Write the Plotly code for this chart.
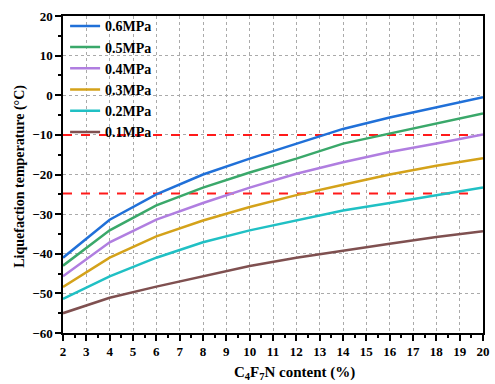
import plotly.graph_objects as go

content = [2, 4, 6, 8, 10, 12, 14, 16, 18, 20]
t_06 = [-41.0, -31.4, -25.0, -20.0, -16.0, -12.2, -8.5, -5.6, -3.1, -0.5]
t_05 = [-43.0, -34.1, -27.8, -23.3, -19.5, -16.0, -12.2, -9.7, -7.2, -4.6]
t_04 = [-45.7, -37.1, -31.4, -27.2, -23.3, -19.8, -16.9, -14.3, -12.2, -9.9]
t_03 = [-48.4, -41.0, -35.6, -31.6, -28.2, -25.2, -22.6, -20.0, -17.8, -15.9]
t_02 = [-51.4, -45.7, -41.0, -37.1, -34.1, -31.6, -29.1, -27.2, -25.3, -23.3]
t_01 = [-55.0, -51.1, -48.3, -45.7, -43.1, -41.0, -39.2, -37.5, -35.8, -34.3]

series_names = ["0.6MPa", "0.5MPa", "0.4MPa", "0.3MPa", "0.2MPa", "0.1MPa"]
series_vals = [t_06, t_05, t_04, t_03, t_02, t_01]
colors = ["#2070d8", "#3aa86a", "#b07ee0", "#d4a21a", "#20c0c4", "#7f5050"]

ref_levels = [-10, -24.8]
ref_x = [2, 19.6]

x_title = "C<sub>4</sub>F<sub>7</sub>N content (%)"
y_title = "Liquefaction temperature (°C)"

font_family = "Liberation Serif, Times New Roman, serif"

fig = go.Figure()
for lvl in ref_levels:
    fig.add_trace(go.Scatter(x=ref_x, y=[lvl, lvl], mode="lines",
                             line=dict(color="#ff1a1a", width=2, dash="dash"),
                             showlegend=False, hoverinfo="skip"))
for name, vals, c in zip(series_names, series_vals, colors):
    fig.add_trace(go.Scatter(x=content, y=vals, mode="lines", name=name,
                             line=dict(color=c, width=2.5)))

fig.update_layout(
    width=495, height=384,
    margin=dict(l=63, r=5, t=16, b=51),
    plot_bgcolor="white", paper_bgcolor="white",
    font=dict(family=font_family, color="black"),
    legend=dict(x=0.005, y=1.018, xanchor="left", yanchor="top",
                bgcolor="rgba(0,0,0,0)", tracegroupgap=0,
                font=dict(family=font_family, size=14, color="black", weight="bold"),
                itemwidth=30),
    annotations=[
        dict(text="<b>" + x_title + "</b>", xref="paper", yref="paper",
             x=(298 - 63) / 427, y=-(373 - 333) / 317, xanchor="center", yanchor="middle",
             showarrow=False, font=dict(family=font_family, size=15, color="black")),
        dict(text="<b>" + y_title + "</b>", xref="paper", yref="paper",
             x=-(63 - 19) / 427, y=(333 - 176) / 317, xanchor="center", yanchor="middle",
             textangle=-90, showarrow=False,
             font=dict(family=font_family, size=14, color="black")),
    ],
)
fig.update_xaxes(
    range=[2, 20], tickmode="linear", tick0=2, dtick=1,
    showgrid=True, gridcolor="#aaaaaa", griddash="dot", gridwidth=1,
    showline=True, linecolor="black", linewidth=1.5, mirror=True,
    ticks="outside", ticklen=6, tickwidth=1.5, tickcolor="black",
    minor=dict(ticks="outside", ticklen=3, dtick=0.5, tickcolor="black", showgrid=False),
    tickfont=dict(family=font_family, size=13, weight="bold"),
    zeroline=False,
)
fig.update_yaxes(
    range=[-60, 20], tickmode="linear", tick0=-60, dtick=10,
    showgrid=True, gridcolor="#aaaaaa", griddash="dot", gridwidth=1,
    showline=True, linecolor="black", linewidth=1.5, mirror=True,
    ticks="outside", ticklen=6, tickwidth=1.5, tickcolor="black",
    minor=dict(ticks="outside", ticklen=3, dtick=5, tickcolor="black", showgrid=False),
    tickfont=dict(family=font_family, size=13, weight="bold"),
    zeroline=False,
)

fig.write_html("out.html")
